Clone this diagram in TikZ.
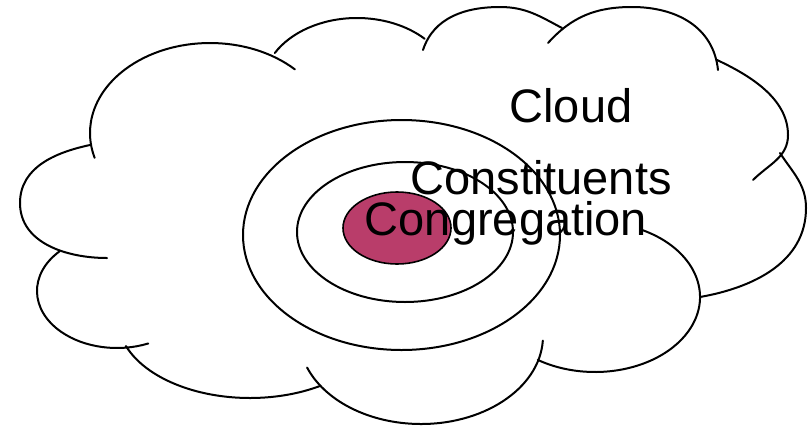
\documentclass[tikz,border=0pt]{standalone}
\usepackage{fontspec}
\setmainfont{Liberation Sans}
\usetikzlibrary{shapes.geometric}
\definecolor{congfill}{RGB}{185,61,106}
\begin{document}
\begin{tikzpicture}[x=1pt,y=1pt,
  cloudline/.style={line width=2pt, line cap=round, line join=round},
  ring/.style={draw, ellipse, line width=2pt, inner sep=0pt, outer sep=0pt},
  txt/.style={font=\fontsize{47}{47}\selectfont, inner sep=0pt, anchor=base}
]
\useasboundingbox (0,-426) rectangle (810,0);

% cloud bumps
\draw[cloudline] (210,-133) ++(45:120 and 90) arc[start angle=45, end angle=196, x radius=120, y radius=90];
\draw[cloudline] (357,-86) ++(151:94 and 68) arc[start angle=151, end angle=44, x radius=94, y radius=68];
\draw[cloudline] (423,-50) to[out=72,in=180] (500,-7) to[out=0,in=152] (562,-28);
\draw[cloudline] (548,-43) to[out=48,in=180] (632,-7) to[out=0,in=96,looseness=1.05] (718,-70);
\draw[cloudline] (717,-60) to[out=-25,in=90,looseness=0.9] (788,-135) to[out=-90,in=45] (753,-180);
\draw[cloudline] (780,-153) to[out=-57,in=90] (806,-208) to[out=-90,in=10] (700,-297);
\draw[cloudline] (595,-297) ++(63:105 and 75) arc[start angle=63, end angle=-123, x radius=105, y radius=75];
\draw[cloudline] (421,-336) ++(-3:122 and 88) arc[start angle=-3, end angle=-159, x radius=122, y radius=88];
\draw[cloudline] (250,-319) ++(-58:132 and 79) arc[start angle=-58, end angle=-160, x radius=132, y radius=79];
\draw[cloudline] (117,-291) ++(136:80 and 57) arc[start angle=136, end angle=293, x radius=80, y radius=57];
\draw[cloudline] (90,-145) to[out=192,in=90] (20,-203) to[out=-90,in=180] (107,-258);

% rings
\node[ring, minimum width=317pt, minimum height=230pt] (outer) at (401.5,-235) {};
\node[ring, minimum width=216pt, minimum height=140pt] (middle) at (405,-232) {};
\node[ring, fill=congfill, line width=1.6pt, minimum width=108pt, minimum height=72pt] (inner) at (397,-228) {};

% texts
\node[txt] (cloud) at (571,-122) {Cloud};
\node[txt] (constituents) at (541,-194) {Constituents};
\node[txt] (congregation) at (506,-235) {Congregation};
\end{tikzpicture}
\end{document}
